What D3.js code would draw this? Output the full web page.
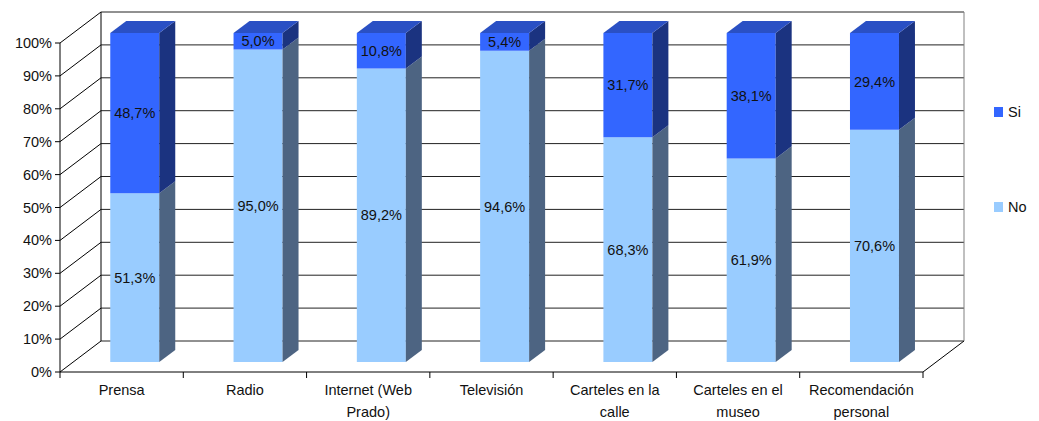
<!DOCTYPE html>
<html>
<head>
<meta charset="utf-8">
<script src="https://cdn.jsdelivr.net/npm/d3@7"></script>
<style>
  body { margin: 0; background: #fff; }
  svg text { font-family: "Liberation Sans", Arial, sans-serif; font-size: 14.5px; fill: #111; }
</style>
</head>
<body>
<div id="chart"></div>
<script>
// Data
const categories = ["Prensa", "Radio", "Internet (Web Prado)", "Televisión", "Carteles en la calle", "Carteles en el museo", "Recomendación personal"];
const categoryLines = [["Prensa"], ["Radio"], ["Internet (Web", "Prado)"], ["Televisión"], ["Carteles en la", "calle"], ["Carteles en el", "museo"], ["Recomendación", "personal"]];
const noValues = [51.3, 95.0, 89.2, 94.6, 68.3, 61.9, 70.6];
const siValues = [48.7, 5.0, 10.8, 5.4, 31.7, 38.1, 29.4];
const yTicks = [0, 10, 20, 30, 40, 50, 60, 70, 80, 90, 100];

const series = [
  { key: "No", values: noValues, front: "#99ccff", side: "#4d6482", top: "#7fa8d6" },
  { key: "Si", values: siValues, front: "#3366ff", side: "#1b3380", top: "#2a50c4" }
];

// Chart dimensions
const W = 1039, H = 421;
const plot = { left: 60, right: 923, bottom: 372, top: 43 };
const depth = { dx: 41, dy: -31 };
const barZ = [0.32, 0.71];

const svg = d3.select("#chart").append("svg")
  .attr("width", W)
  .attr("height", H);

const x = d3.scaleBand().domain(categories).range([plot.left, plot.right]).paddingInner(0).paddingOuter(0);
const y = d3.scaleLinear().domain([0, 100]).range([plot.bottom, plot.top]);
const barW = 49;

const P = (px, py, z) => [px + depth.dx * z, py + depth.dy * z];
const poly = pts => "M" + pts.map(p => p.join(",")).join("L") + "Z";

// Walls
const back = svg.append("g");
back.append("path")
  .attr("d", poly([P(plot.left, y(0), 1), P(plot.left, y(100), 1), P(plot.right, y(100), 1), P(plot.right, y(0), 1)]))
  .attr("fill", "#fff").attr("stroke", "none");

back.selectAll("line.grid")
  .data(yTicks)
  .join("line")
    .attr("class", "grid")
    .attr("x1", plot.left + depth.dx).attr("x2", plot.right + depth.dx)
    .attr("y1", d => y(d) + depth.dy).attr("y2", d => y(d) + depth.dy)
    .attr("stroke", "#222").attr("stroke-width", 1);

back.selectAll("line.wallgrid")
  .data(yTicks)
  .join("line")
    .attr("class", "wallgrid")
    .attr("x1", plot.left).attr("x2", plot.left + depth.dx)
    .attr("y1", d => y(d)).attr("y2", d => y(d) + depth.dy)
    .attr("stroke", "#000").attr("stroke-width", 1);

// back wall edges
back.append("line")
  .attr("x1", plot.left + depth.dx).attr("x2", plot.left + depth.dx)
  .attr("y1", y(0) + depth.dy).attr("y2", y(100) + depth.dy)
  .attr("stroke", "#000");
back.append("line")
  .attr("x1", plot.right + depth.dx).attr("x2", plot.right + depth.dx)
  .attr("y1", y(0) + depth.dy).attr("y2", y(100) + depth.dy)
  .attr("stroke", "#808080");
back.append("line")
  .attr("x1", plot.right).attr("x2", plot.right + depth.dx)
  .attr("y1", y(0)).attr("y2", y(0) + depth.dy)
  .attr("stroke", "#000");

// Bars
const stacked = categories.map((c, i) => {
  let acc = 0;
  return series.map(s => {
    const seg = { cat: c, key: s.key, s, v: s.values[i], y0: acc, y1: acc + s.values[i] };
    acc += s.values[i];
    return seg;
  });
});

const fmt = v => v.toFixed(1).replace(".", ",") + "%";

const bars = svg.append("g");
stacked.forEach((segs, i) => {
  const g = bars.append("g");
  const x0 = x(categories[i]) + (x.bandwidth() - barW) / 2;
  const x1 = x0 + barW;
  segs.forEach(d => {
    // front
    g.append("path")
      .attr("d", poly([P(x0, y(d.y0), barZ[0]), P(x0, y(d.y1), barZ[0]), P(x1, y(d.y1), barZ[0]), P(x1, y(d.y0), barZ[0])]))
      .attr("fill", d.s.front);
    // side
    g.append("path")
      .attr("d", poly([P(x1, y(d.y0), barZ[0]), P(x1, y(d.y1), barZ[0]), P(x1, y(d.y1), barZ[1]), P(x1, y(d.y0), barZ[1])]))
      .attr("fill", d.s.side);
  });
  const topSeg = segs[segs.length - 1];
  g.append("path")
    .attr("d", poly([P(x0, y(topSeg.y1), barZ[0]), P(x0, y(topSeg.y1), barZ[1]), P(x1, y(topSeg.y1), barZ[1]), P(x1, y(topSeg.y1), barZ[0])]))
    .attr("fill", topSeg.s.top);
  // labels
  segs.forEach(d => {
    const c = P((x0 + x1) / 2, y((d.y0 + d.y1) / 2), barZ[0]);
    g.append("text")
      .attr("x", c[0]).attr("y", c[1])
      .attr("dy", "0.35em")
      .attr("text-anchor", "middle")
      .text(fmt(d.v));
  });
});

// Front axes
const axes = svg.append("g");
axes.append("line")
  .attr("x1", plot.left).attr("x2", plot.left)
  .attr("y1", y(0)).attr("y2", y(100))
  .attr("stroke", "#000");
axes.append("line")
  .attr("x1", plot.left).attr("x2", plot.right)
  .attr("y1", y(0)).attr("y2", y(0))
  .attr("stroke", "#000");

axes.selectAll("line.ytick")
  .data(yTicks)
  .join("line")
    .attr("x1", plot.left - 5).attr("x2", plot.left)
    .attr("y1", d => y(d)).attr("y2", d => y(d))
    .attr("stroke", "#000");

axes.selectAll("text.ylab")
  .data(yTicks)
  .join("text")
    .attr("x", plot.left - 8)
    .attr("y", d => y(d))
    .attr("dy", "0.35em")
    .attr("text-anchor", "end")
    .text(d => d + "%");

const xTicks = d3.range(categories.length + 1).map(k => plot.left + k * x.step());
axes.selectAll("line.xtick")
  .data(xTicks)
  .join("line")
    .attr("x1", d => d).attr("x2", d => d)
    .attr("y1", y(0)).attr("y2", y(0) + 6)
    .attr("stroke", "#000");

axes.selectAll("text.xlab")
  .data(categories)
  .join("text")
    .attr("x", d => x(d) + x.bandwidth() / 2)
    .attr("y", 395)
    .attr("text-anchor", "middle")
    .each(function(d, i) {
      d3.select(this).selectAll("tspan")
        .data(categoryLines[i])
        .join("tspan")
          .attr("x", x(d) + x.bandwidth() / 2)
          .attr("dy", (t, j) => j === 0 ? 0 : 22)
          .text(t => t);
    });

// Legend
const legend = svg.append("g");
const legendItems = [
  { key: "Si", color: "#3366ff", y: 112 },
  { key: "No", color: "#99ccff", y: 207 }
];
legend.selectAll("rect")
  .data(legendItems)
  .join("rect")
    .attr("x", 994).attr("y", d => d.y - 5)
    .attr("width", 9).attr("height", 10)
    .attr("fill", d => d.color);
legend.selectAll("text")
  .data(legendItems)
  .join("text")
    .attr("x", 1008).attr("y", d => d.y)
    .attr("dy", "0.35em")
    .text(d => d.key);
</script>
</body>
</html>
